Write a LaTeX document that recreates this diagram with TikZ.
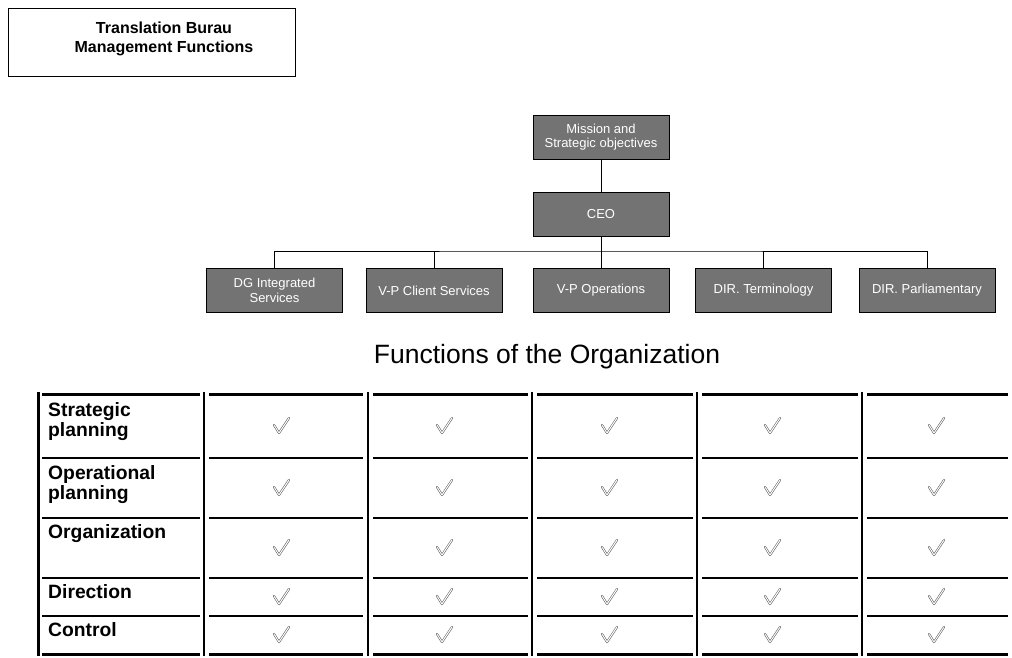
\documentclass[tikz,border=0pt]{standalone}
\usepackage{fontspec}
\setmainfont{Liberation Sans}
\begin{document}
\begin{tikzpicture}[x=1pt,y=-1pt,
  titlebox/.style={draw,line width=0.8pt,minimum width=287pt,minimum height=68pt},
  titletext/.style={align=center,font=\bfseries\fontsize{16}{18.5}\selectfont},
  orgbox/.style={draw,line width=1pt,fill=black!55,text=white,minimum width=136pt,minimum height=44pt,align=center,inner sep=1pt,font=\fontsize{13}{14.5}\selectfont},
  link/.style={line width=1pt},
  heading/.style={font=\fontsize{26.5}{30}\selectfont},
  rowlabel/.style={anchor=north west,align=left,font=\bfseries\fontsize{19.3}{20}\selectfont,inner sep=0pt},
  rule/.style={line width=1.4pt},
  thickrule/.style={line width=3pt},
  colrule/.style={line width=1.2pt},
  chk/.style={draw=black!65,line width=0.55pt,double=white,double distance=1pt,line cap=round,line join=round}
]
\useasboundingbox (0,0) rectangle (1012,657);

% header box
\node[titlebox] (title) at (151.5,42) {};
\node[titletext] (titletxt) at (164,39) {Translation Burau\\Management Functions};

% organisation chart
\node[orgbox] (mission) at (601,137) {Mission and\\Strategic objectives};
\node[orgbox] (ceo) at (601,214.5) {CEO};
\node[orgbox] (dg) at (274.5,290.5) {DG Integrated\\Services};
\node[orgbox] (vpc) at (434,290.5) {V-P Client Services};
\node[orgbox] (vpo) at (601,290.5) {V-P Operations};
\node[orgbox] (dirt) at (763.5,290.5) {DIR. Terminology};
\node[orgbox] (dirp) at (927,290.5) {DIR. Parliamentary};

\coordinate (bus) at (601,251);
\draw[link] (mission) -- (ceo);
\draw[link] (ceo) -- (bus);
\draw[link] (dg.north) |- (bus) -| (dirp.north);
\foreach \b in {vpc,vpo,dirt}{
  \draw[link] (\b.north) -- (\b.north |- bus);
}

% table heading
\node[heading] (fhead) at (547,357) {Functions of the Organization};

% horizontal rules, broken at the column separators
\foreach \xa/\xb in {42/200,209/363,373/528,537/693,702/858,867/1008}{
  \draw[thickrule] (\xa,394) -- (\xb,394);
  \draw[rule] (\xa,458) -- (\xb,458);
  \draw[rule] (\xa,518) -- (\xb,518);
  \draw[rule] (\xa,578) -- (\xb,578);
  \draw[rule] (\xa,616) -- (\xb,616);
  \draw[thickrule] (\xa,654.5) -- (\xb,654.5);
}
\draw[line width=3pt] (38,392) -- (38,656);
\foreach \x in {204,368,532,697,862}{
  \draw[colrule] (\x,392) -- (\x,656);
}

% row labels
\node[rowlabel] (r1) at (48,402) {Strategic\\planning};
\node[rowlabel] (r2) at (48,465) {Operational\\planning};
\node[rowlabel] (r3) at (48,524) {Organization};
\node[rowlabel] (r4) at (48,584) {Direction};
\node[rowlabel] (r5) at (48,622) {Control};

% check marks in every cell
\foreach \y in {426,488,548,597,635}{
  \foreach \x in {280,443,608,771,935}{
    \draw[chk] (\x-6,\y-1) -- (\x-1,\y+7) -- (\x+9,\y-8);
  }
}
\end{tikzpicture}
\end{document}
